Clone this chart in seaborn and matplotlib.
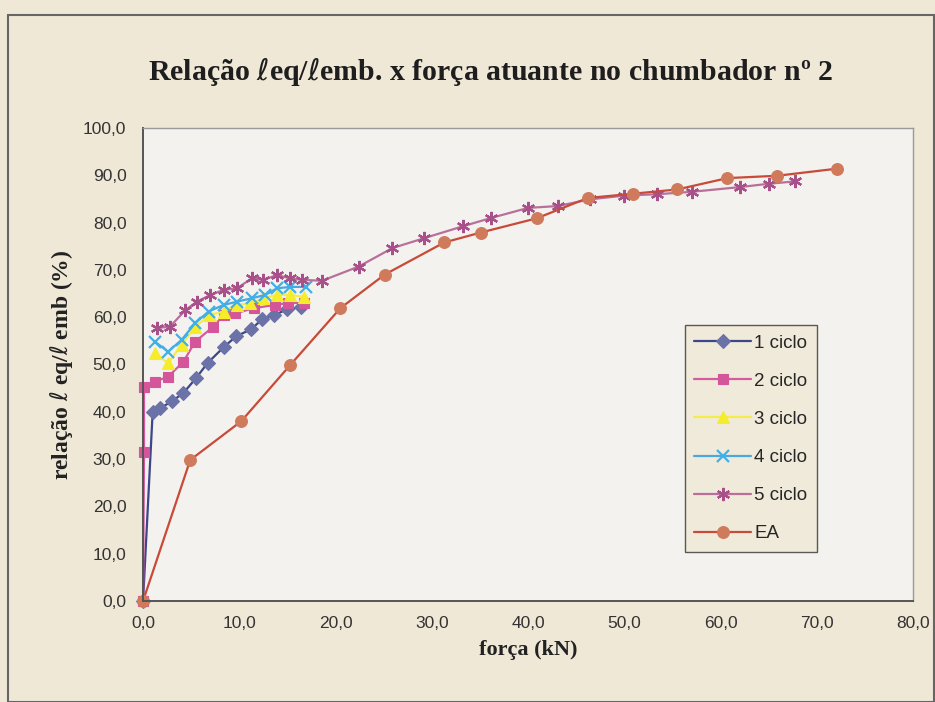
import matplotlib
matplotlib.use("Agg")
import matplotlib.pyplot as plt
import seaborn as sns
from matplotlib.patches import Rectangle
from matplotlib.ticker import FuncFormatter, MultipleLocator

# --- donnees ---
x_c1 = [0.0, 1.0, 1.8, 3.0, 4.2, 5.5, 6.7, 8.4, 9.7, 11.2, 12.4, 13.6, 15.0, 16.4]
y_c1 = [0.0, 40.0, 40.8, 42.2, 44.0, 47.1, 50.3, 53.7, 56.0, 57.4, 59.6, 60.4, 61.7, 62.1]

x_c2 = [0.0, 0.1, 0.1, 1.25, 2.6, 4.2, 5.4, 7.3, 8.4, 9.6, 11.5, 13.75, 15.1, 16.7]
y_c2 = [0.0, 31.6, 45.3, 46.4, 47.4, 50.6, 54.8, 58.0, 60.5, 60.8, 61.9, 62.6, 63.0, 63.0]

x_c3 = [1.25, 2.6, 4.0, 5.4, 7.0, 8.4, 9.75, 11.1, 12.5, 13.9, 15.3, 16.7]
y_c3 = [52.4, 50.3, 54.1, 58.0, 60.5, 61.2, 62.6, 62.9, 64.0, 64.7, 64.7, 64.3]

x_c4 = [1.25, 2.6, 4.0, 5.4, 6.8, 8.4, 9.8, 11.3, 12.7, 13.9, 15.3, 16.9]
y_c4 = [54.8, 52.7, 55.2, 58.7, 61.2, 62.6, 63.3, 64.0, 64.7, 66.1, 66.4, 66.4]

x_c5 = [1.4, 2.8, 4.4, 5.6, 7.0, 8.4, 9.75, 11.3, 12.5, 13.9, 15.3, 16.5, 18.6, 22.4,
        25.9, 29.2, 33.2, 36.2, 40.0, 43.1, 46.4, 50.0, 53.4, 57.0, 62.0, 65.0, 67.7]
y_c5 = [57.7, 58.0, 61.5, 63.3, 64.7, 65.8, 66.1, 68.2, 67.9, 68.9, 68.2, 67.9, 67.7, 70.7,
        74.6, 76.7, 79.2, 81.0, 83.1, 83.5, 84.9, 85.7, 86.0, 86.5, 87.5, 88.2, 88.7]

x_ea = [0.0, 4.9, 10.2, 15.3, 20.5, 25.1, 31.3, 35.1, 40.9, 46.2, 50.9, 55.5, 60.7, 65.9, 72.1]
y_ea = [0.0, 29.8, 38.0, 49.9, 61.9, 69.0, 75.8, 77.9, 80.9, 85.2, 86.1, 87.0, 89.4, 89.9, 91.4]

series = [
    ("1 ciclo", x_c1, y_c1, "#3c4688", "#6a72a8", "D", 7),
    ("2 ciclo", x_c2, y_c2, "#d65aa0", "#d4559a", "s", 7.5),
    ("3 ciclo", x_c3, y_c3, "#f3ec4a", "#f5ec2a", "^", 8.5),
    ("4 ciclo", x_c4, y_c4, "#4aa8e0", "#3fb0e8", "x", 8.5),
    ("5 ciclo", x_c5, y_c5, "#b8709a", "#a8508a", (6, 2, 0), 9.5),
    ("EA", x_ea, y_ea, "#c84a38", "#d07a5c", "o", 8.5),
]

sns.set_style("white")
plt.rcParams["font.family"] = ["Liberation Sans", "DejaVu Sans"]

fig = plt.figure(figsize=(9.35, 7.02), dpi=100, facecolor="#efe8d6")
ax = fig.add_axes([0.153, 0.1439, 0.8235, 0.6738])
ax.set_facecolor("#f4f2ee")

for nom, xs, ys, c_ligne, c_marq, marq, taille in series:
    sns.lineplot(x=xs, y=ys, ax=ax, sort=False, estimator=None, color=c_ligne,
                 linewidth=1.6, marker=marq, markersize=taille,
                 markerfacecolor=c_marq, markeredgecolor=c_marq,
                 markeredgewidth=1.6 if marq in ("x", (6, 2, 0)) else 0.8,
                 label=nom, clip_on=False)

ax.set_xlim(0, 80)
ax.set_ylim(0, 100)
ax.xaxis.set_major_locator(MultipleLocator(10))
ax.yaxis.set_major_locator(MultipleLocator(10))
virgule = FuncFormatter(lambda v, p: f"{v:.1f}".replace(".", ","))
ax.xaxis.set_major_formatter(virgule)
ax.yaxis.set_major_formatter(virgule)
ax.tick_params(axis="both", labelsize=12.5, colors="#333333", length=6, width=1,
               direction="out", pad=6)
ax.tick_params(axis="x", direction="inout", length=10)
for cote in ["left", "bottom"]:
    ax.spines[cote].set_color("#555555")
    ax.spines[cote].set_linewidth(1.4)
for cote in ["top", "right"]:
    ax.spines[cote].set_color("#9a9a9a")
    ax.spines[cote].set_linewidth(1.0)

serif = ["Liberation Serif", "DejaVu Serif"]
ax.set_xlabel("força (kN)", family=serif, fontweight="bold", fontsize=16,
              color="#222222", labelpad=6)
ax.set_ylabel("relação $\\ell$ eq/$\\ell$ emb (%)", family=serif, fontweight="bold",
              fontsize=17, color="#222222", labelpad=6)
fig.text(0.525, 0.898, "Relação $\\ell$eq/$\\ell$emb. x força atuante no chumbador nº 2",
         family=serif, fontweight="bold", fontsize=21.5, color="#1e1e1e",
         ha="center", va="center")

leg = ax.legend(loc="upper left", bbox_to_anchor=(0.704, 0.583), frameon=True,
                fancybox=False, fontsize=13.5, handlelength=3.0, handletextpad=0.2,
                labelspacing=1.12, borderpad=0.5, borderaxespad=0)
leg.get_frame().set_edgecolor("#333333")
leg.get_frame().set_facecolor("#efe8d6")
leg.get_frame().set_linewidth(1.0)

fig.patches.append(Rectangle((0.009, 0.0), 0.99, 0.978, transform=fig.transFigure,
                             fill=False, edgecolor="#666666", linewidth=1.5))

plt.savefig("out.png", dpi=100, facecolor=fig.get_facecolor())
